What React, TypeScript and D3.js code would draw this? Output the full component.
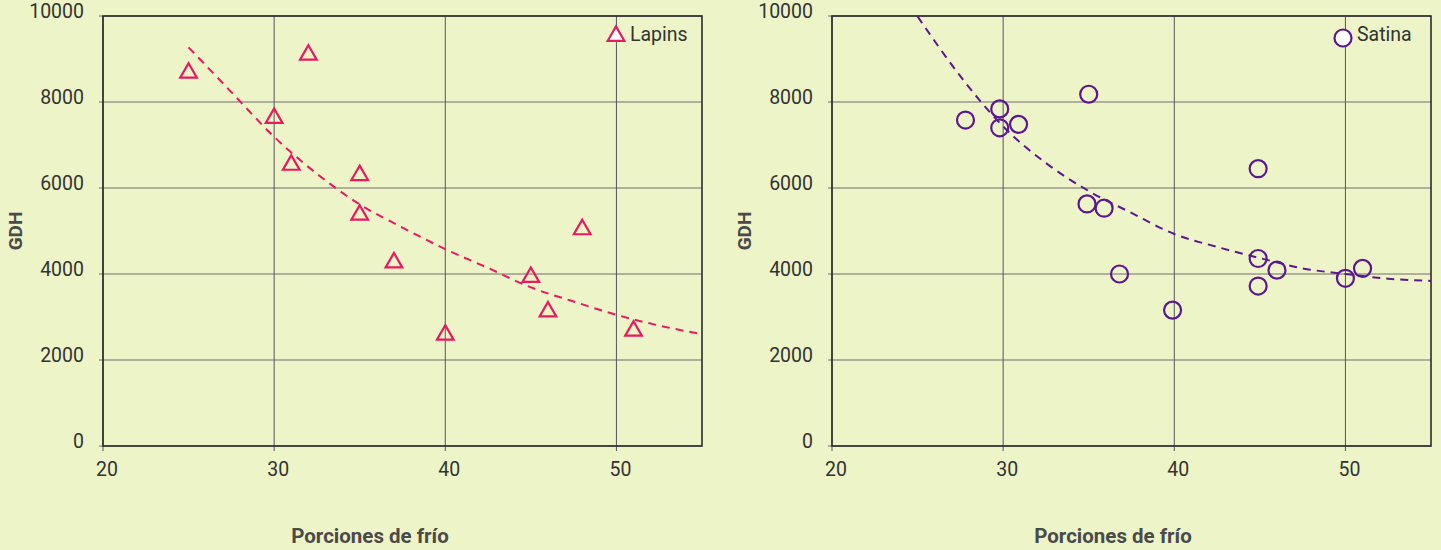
import React from "react";
import * as d3 from "d3";

// Lapins (triangles)
const lapinsX = [25, 30, 32, 31, 35, 35, 37, 40, 45, 46, 48, 51];
const lapinsY = [8700, 7650, 9120, 6560, 6320, 5400, 4290, 2610, 3950, 3150, 5060, 2700];
const lapinsTrendX = [25, 27.5, 30, 32.5, 35, 37.5, 40, 42.5, 45, 47.5, 50, 52.5, 55];
const lapinsTrendY = [9270, 8230, 7190, 6330, 5620, 5080, 4580, 4140, 3690, 3360, 3050, 2800, 2600];

// Satina (circles)
const satinaX = [27.8, 29.8, 29.8, 30.9, 35, 34.9, 35.9, 36.8, 39.9, 44.9, 44.9, 44.9, 46, 50, 51];
const satinaY = [7580, 7840, 7400, 7480, 8180, 5630, 5530, 4000, 3160, 6450, 4360, 3720, 4090, 3900, 4130];
const satinaTrendX = [25, 27.5, 30, 32.5, 35, 37.5, 40, 42.5, 45, 47.5, 50, 52.5, 55];
const satinaTrendY = [9990, 8600, 7430, 6580, 5930, 5420, 4930, 4630, 4370, 4130, 4000, 3890, 3840];

const xTicks = [20, 30, 40, 50];
const yTicks = [0, 2000, 4000, 6000, 8000, 10000];

const bg = "#edf4c7";
const textColor = "#333";
const font = "Roboto, 'Noto Sans', sans-serif";

type PanelProps = {
  left: number;
  right: number;
  xs: number[];
  ys: number[];
  tx: number[];
  ty: number[];
  color: string;
  shape: "triangle" | "circle";
  label: string;
  legendX: number;
  titleX: number;
};

const top = 16;
const bottom = 446;

const Marker = ({ shape, x, y, color, fill }: { shape: string; x: number; y: number; color: string; fill: string }) => {
  if (shape === "circle") {
    return <circle cx={x} cy={y} r={8.5} fill={fill} stroke={color} strokeWidth={2.2} />;
  }
  const path = d3.symbol(d3.symbolTriangle, 120)() as string;
  return <path d={path} transform={`translate(${x},${y + 1})`} fill={fill} stroke={color} strokeWidth={2.2} />;
};

const Panel = (p: PanelProps) => {
  const x = d3.scaleLinear().domain([20, 55]).range([p.left, p.right]);
  const y = d3.scaleLinear().domain([0, 10000]).range([bottom, top]);
  const line = d3
    .line<number>()
    .x((d, i) => x(p.tx[i]))
    .y((d) => y(d))
    .curve(d3.curveMonotoneX);
  const clipId = `clip-${p.label}`;

  return (
    <g>
      <defs>
        <clipPath id={clipId}>
          <rect x={p.left} y={top} width={p.right - p.left} height={bottom - top} />
        </clipPath>
      </defs>
      {yTicks.map((t) => (
        <g key={"y" + t}>
          <line x1={p.left - 4} x2={p.right} y1={y(t)} y2={y(t)} stroke="#9a9a8e" strokeWidth={1.6} />
          <text
            x={p.left - 19}
            y={y(t) - 3}
            textAnchor="end"
            dominantBaseline="middle"
            fontSize={19.5}
            fill={textColor}
            fontFamily={font}
          >
            {t}
          </text>
        </g>
      ))}
      {xTicks.map((t) => (
        <g key={"x" + t}>
          <line x1={x(t)} x2={x(t)} y1={top} y2={bottom + 5} stroke="#55555f" strokeWidth={1} />
          <text
            x={x(t) + 4}
            y={471}
            textAnchor="middle"
            dominantBaseline="middle"
            fontSize={19.5}
            fill={textColor}
            fontFamily={font}
          >
            {t}
          </text>
        </g>
      ))}
      <rect
        x={p.left}
        y={top}
        width={p.right - p.left}
        height={bottom - top}
        fill="none"
        stroke="#2b2b2b"
        strokeWidth={1.6}
      />
      <path
        d={line(p.ty) as string}
        fill="none"
        stroke={p.color}
        strokeWidth={2}
        strokeDasharray="8,6"
        clipPath={`url(#${clipId})`}
      />
      {p.xs.map((v, i) => (
        <Marker key={i} shape={p.shape} x={x(v)} y={y(p.ys[i])} color={p.color} fill="none" />
      ))}
      <Marker shape={p.shape} x={p.legendX} y={p.shape === "circle" ? 38 : 35} color={p.color} fill="#fff" />
      <text x={p.legendX + 14} y={36} dominantBaseline="middle" fontSize={19.5} fill={textColor} fontFamily={font}>
        {p.label}
      </text>
      <text
        transform={`translate(${p.left - 86},${(top + bottom) / 2}) rotate(-90)`}
        textAnchor="middle"
        dominantBaseline="middle"
        fontSize={19}
        fontWeight="bold"
        fill="#4a4a4a"
        fontFamily={font}
      >
        GDH
      </text>
      <text
        x={p.titleX}
        y={538}
        textAnchor="middle"
        dominantBaseline="middle"
        fontSize={20.5}
        fontWeight="bold"
        fill="#4a4a4a"
        fontFamily={font}
      >
        Porciones de frío
      </text>
    </g>
  );
};

export default function App() {
  return (
    <svg width={1441} height={550} style={{ position: "absolute", left: 0, top: 0 }}>
      <rect width={1441} height={550} fill={bg} />
      <Panel
        left={103}
        right={702}
        xs={lapinsX}
        ys={lapinsY}
        tx={lapinsTrendX}
        ty={lapinsTrendY}
        color="#e8195f"
        shape="triangle"
        label="Lapins"
        legendX={616}
        titleX={370}
      />
      <Panel
        left={832}
        right={1431}
        xs={satinaX}
        ys={satinaY}
        tx={satinaTrendX}
        ty={satinaTrendY}
        color="#5a1890"
        shape="circle"
        label="Satina"
        legendX={1343}
        titleX={1113}
      />
    </svg>
  );
}
